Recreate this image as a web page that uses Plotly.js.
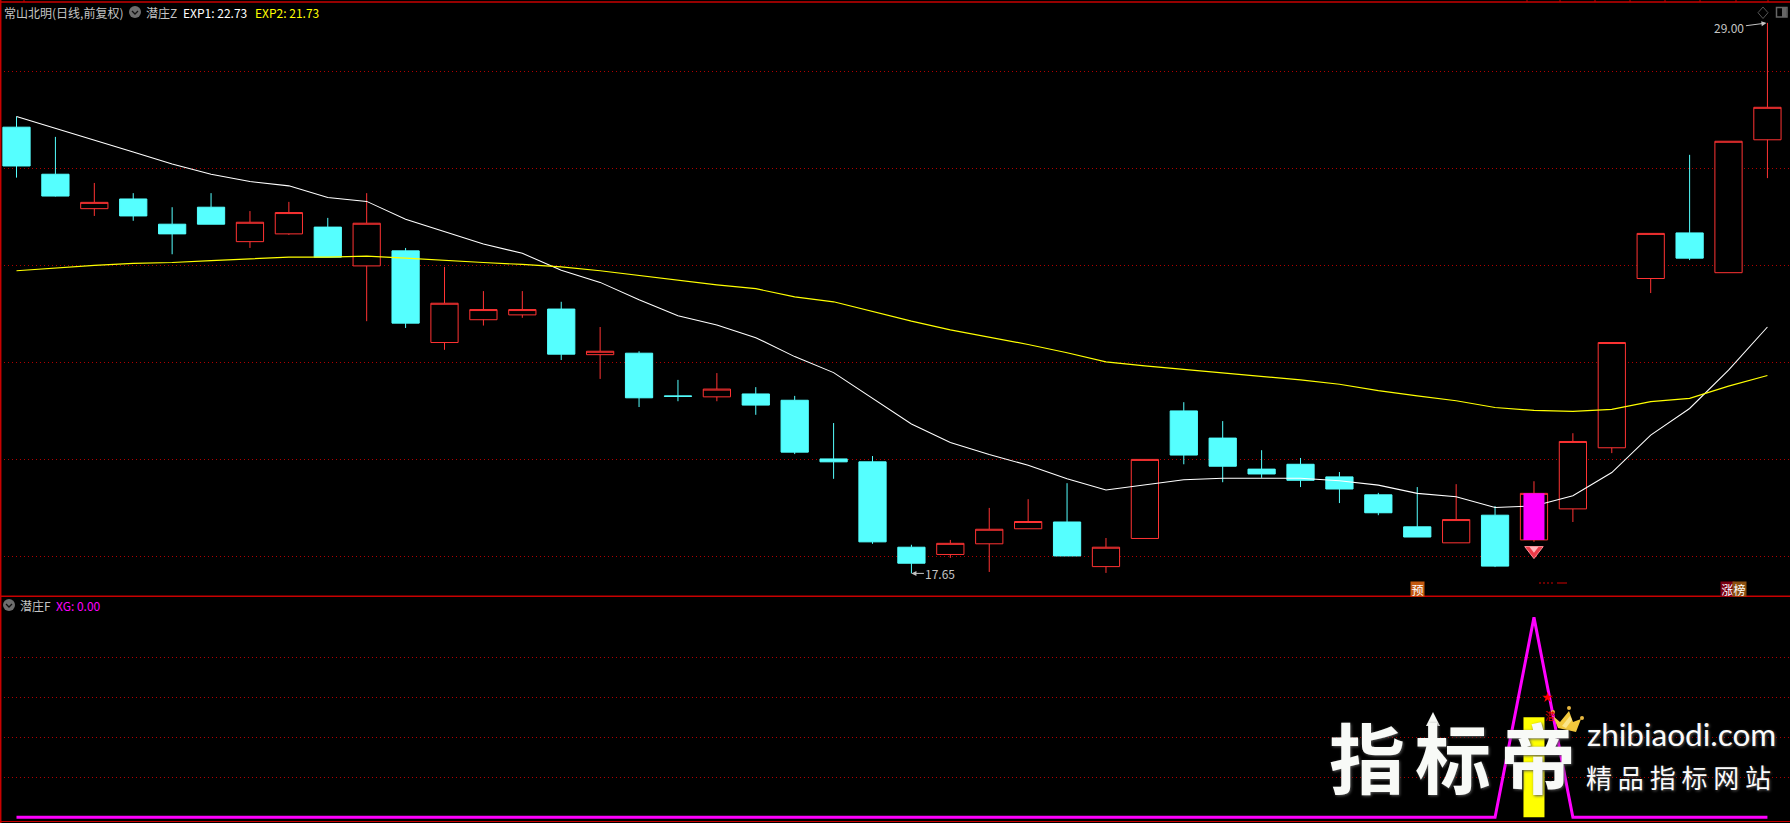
<!DOCTYPE html>
<html><head><meta charset="utf-8">
<script src="https://cdn.plot.ly/plotly-3.0.1.min.js"></script>
<style>html,body{margin:0;padding:0;background:#000;overflow:hidden}#c{width:1790px;height:823px}</style>
</head><body><div id="c"></div>
<script>
const H = 823, W = 1790;
const openP = [26.85,25.88,25.17,25.37,24.85,25.20,24.49,24.65,24.79,23.99,24.30,22.41,22.88,22.98,23.10,22.16,22.19,21.31,21.29,21.35,21.22,20.01,19.95,18.19,18.04,18.26,18.57,18.71,17.79,18.37,21.00,20.44,19.80,19.90,19.64,19.27,18.61,18.28,18.85,18.34,18.98,20.24,23.73,24.67,23.85,26.59];
const highP = [27.07,26.65,25.70,25.49,25.20,25.49,25.12,25.31,24.98,25.49,24.36,23.97,23.47,23.47,23.25,22.73,22.23,21.64,21.78,21.49,21.31,20.75,20.07,18.24,18.34,19.00,19.18,19.51,18.38,20.00,21.18,20.79,20.19,20.03,19.74,19.31,19.43,19.49,19.04,19.55,20.54,22.41,24.66,26.28,26.56,29.00];
const lowP = [25.81,25.42,25.02,24.92,24.23,24.85,24.36,24.63,24.17,22.85,22.71,22.26,22.76,22.92,22.05,21.66,21.08,21.20,21.20,20.92,20.11,19.60,18.26,17.65,17.97,17.68,18.57,18.01,17.66,18.37,19.90,19.53,19.62,19.43,19.10,18.85,18.40,18.28,17.78,18.30,18.71,20.13,23.43,24.11,23.85,25.80];
const closeP = [26.05,25.43,25.30,25.02,24.65,24.85,24.89,25.09,24.17,24.87,22.81,23.22,23.09,23.09,22.17,22.23,21.27,21.30,21.45,21.12,20.15,19.95,18.30,17.86,18.27,18.56,18.72,18.01,18.19,20.00,20.09,19.86,19.70,19.57,19.39,18.90,18.40,18.76,17.80,19.30,20.37,22.41,24.66,24.15,26.56,27.26];
const exp1 = [27.07,26.83,26.59,26.34,26.09,25.88,25.73,25.64,25.40,25.32,24.95,24.69,24.44,24.25,23.90,23.65,23.29,22.96,22.77,22.51,22.12,21.79,21.26,20.73,20.35,20.10,19.88,19.60,19.37,19.47,19.58,19.61,19.61,19.61,19.56,19.47,19.30,19.23,19.01,19.04,19.25,19.73,20.50,21.05,21.84,22.73];
const exp2 = [23.89,23.95,24.00,24.04,24.06,24.10,24.13,24.17,24.17,24.19,24.15,24.10,24.06,24.02,23.97,23.89,23.79,23.70,23.60,23.52,23.35,23.25,23.05,22.85,22.67,22.52,22.37,22.20,22.01,21.93,21.86,21.78,21.72,21.64,21.55,21.42,21.31,21.21,21.07,21.01,20.99,21.03,21.19,21.26,21.51,21.73];
const xg = [0,0,0,0,0,0,0,0,0,0,0,0,0,0,0,0,0,0,0,0,0,0,0,0,0,0,0,0,0,0,0,0,0,0,0,0,0,0,0,100,0,0,0,0,0,0];
const priceGrid = [18,20,22,24,26,28];
const subGrid = [20,40,60,80];
const idx = openP.map((_, i) => i);
const signalIdx = [39];
const signalOpen = [19.30];
const signalClose = [18.34];
const gemPrice = [18.12];
const yellowBar = [50];
const starVal = [60];
const logoChars = ['指','标','帝'];
const topTicks = [24,1527,1560,1595,1630,1665,1700,1736,1768];

const RED = '#ff3333', CYAN = '#55ffff', GRID = '#b00000', BORDER = '#c80000';
const px = v => v / W;
const py = v => 1 - v / H;
const fontCJK = '"Noto Sans CJK SC","DejaVu Sans",sans-serif';
const GREY = '#c4c4c4';

const traces = [
 {type:'candlestick', x:idx, open:openP, high:highP, low:lowP, close:closeP, xaxis:'x', yaxis:'y', width:0.745, whiskerwidth:0,
  increasing:{line:{color:RED,width:1}, fillcolor:'#000000'},
  decreasing:{line:{color:CYAN,width:1}, fillcolor:CYAN}, hoverinfo:'skip', showlegend:false},
 {type:'scatter', mode:'lines', x:idx, y:exp1, line:{color:'#ffffff',width:1.05}, xaxis:'x', yaxis:'y', hoverinfo:'skip'},
 {type:'scatter', mode:'lines', x:idx, y:exp2, line:{color:'#ffff00',width:1.2}, xaxis:'x', yaxis:'y', hoverinfo:'skip'},
 {type:'scatter', mode:'lines', x:[signalIdx[0],signalIdx[0]], y:[signalOpen[0],signalClose[0]], line:{color:'#ff00ff',width:21}, xaxis:'x', yaxis:'y', hoverinfo:'skip'},
 {type:'scatter', mode:'markers', x:signalIdx, y:gemPrice, marker:{symbol:'triangle-down',size:16,color:'#ec3a48',line:{color:'#ff8f98',width:1}}, xaxis:'x', yaxis:'y', hoverinfo:'skip'},
 {type:'scatter', mode:'markers', x:signalIdx, y:[18.16], marker:{symbol:'triangle-down',size:8,color:'#ffb6bc'}, xaxis:'x', yaxis:'y', hoverinfo:'skip'},
 {type:'bar', x:signalIdx, y:yellowBar, width:0.54, marker:{color:'#ffff00',line:{width:0}}, xaxis:'x2', yaxis:'y2', hoverinfo:'skip'},
 {type:'scatter', mode:'lines', x:idx, y:xg, line:{color:'#ff00ff',width:3}, xaxis:'x2', yaxis:'y2', hoverinfo:'skip'},
 {type:'scatter', mode:'markers', x:[39.35], y:starVal, marker:{symbol:'star',size:8,color:'#ff0000'}, xaxis:'x2', yaxis:'y2', hoverinfo:'skip'}
];

function label(x, y, text, color, size, anchor, extra) {
  return Object.assign({xref:'paper', yref:'paper', x:px(x), y:py(y), text, showarrow:false,
    xanchor:anchor||'left', yanchor:'middle', font:{family:fontCJK, size:size||12, color:color||GREY}, borderpad:0}, extra||{});
}

const logoX = [1367,1453,1538];
const annotations = [
 label(3, 12, '常山北明(日线,前复权)', GREY, 12),
 label(145, 12, '潜庄Z', GREY, 12),
 label(182, 12, 'EXP1: 22.73', '#ffffff', 12),
 label(254, 12, 'EXP2: 21.73', '#ffff00', 12),
 label(19, 605, '潜庄F', GREY, 12),
 label(55, 605, 'XG: 0.00', '#ff00ff', 12),
 {xref:'x', yref:'y', x:45, y:29, text:'29.00', showarrow:true, ax:-38, ay:5, arrowcolor:GREY, arrowwidth:1, arrowhead:2, arrowsize:1, standoff:1, font:{family:fontCJK,size:12,color:GREY}},
 {xref:'x', yref:'y', x:23, y:17.65, text:'17.65', showarrow:true, ax:29, ay:0, arrowcolor:GREY, arrowwidth:1, arrowhead:2, arrowsize:1, standoff:0, font:{family:fontCJK,size:12,color:GREY}},
 label(1417.5, 589, '预', '#ffffff', 12, 'center', {bgcolor:'#c2580f', width:13, height:14}),
 label(1727.5, 589, '涨', '#ffffff', 12, 'center', {bgcolor:'#7a0012', width:13, height:14}),
 label(1739.5, 589, '榜', '#ffffff', 12, 'center', {bgcolor:'#8a4f10', width:13, height:14}),
 label(1550, 715, '潜', '#e00000', 10, 'center'),
 ...logoChars.map((c,i)=>label(logoX[i], 755, c, '#f8faf7', 76, 'center', {font:{family:fontCJK,size:76,color:'#f8faf7',weight:700,shadow:'1px 1px 3px #555555'}})),
 label(1681, 734, 'zhibiaodi.com', '#fafafa', 31.5, 'center', {font:{family:'Lato,"Open Sans",sans-serif',size:31.5,color:'#fafafa',shadow:'1px 1px 3px #555555'}}),
 label(1678, 776, '精 品 指 标 网 站', '#fafafa', 26, 'center', {font:{family:fontCJK,size:26,color:'#fafafa',shadow:'1px 1px 3px #555555'}})
];

function iconShapes(cx, cy) {
  return [
   {type:'circle', xref:'paper', yref:'paper', x0:px(cx-6), x1:px(cx+6), y0:py(cy+6), y1:py(cy-6), fillcolor:'#6e6e6e', line:{width:0}},
   {type:'path', xref:'paper', yref:'paper', path:`M ${px(cx-3)} ${py(cy-1)} L ${px(cx)} ${py(cy+2)} L ${px(cx+3)} ${py(cy-1)}`, line:{color:'#111111',width:1.3}}
  ];
}
function poly(pts, fill, lineColor) {
  const d = pts.map((p,i)=>(i?'L ':'M ')+px(p[0])+' '+py(p[1])).join(' ')+' Z';
  return {type:'path', xref:'paper', yref:'paper', path:d, fillcolor:fill, line:{color:lineColor||fill,width:lineColor?1:0}};
}
function dot(cx, cy, r, c) {
  return {type:'circle', xref:'paper', yref:'paper', x0:px(cx-r), x1:px(cx+r), y0:py(cy+r), y1:py(cy-r), fillcolor:c, line:{width:0}};
}
const shapes = [
 ...iconShapes(135, 12),
 ...iconShapes(9, 605),
 {type:'line', xref:'paper', yref:'paper', x0:0, x1:1, y0:py(2), y1:py(2), line:{color:BORDER,width:1.5}},
 ...topTicks.map(t=>({type:'line', xref:'paper', yref:'paper', x0:px(t), x1:px(t), y0:py(0), y1:py(2), line:{color:BORDER,width:1}})),
 {type:'line', xref:'paper', yref:'paper', x0:0, x1:1, y0:py(596.3), y1:py(596.3), line:{color:BORDER,width:1.5}},
 {type:'line', xref:'paper', yref:'paper', x0:0, x1:1, y0:py(821.5), y1:py(821.5), line:{color:BORDER,width:1}},
 {type:'line', xref:'paper', yref:'paper', x0:px(0.7), x1:px(0.7), y0:0, y1:1, line:{color:BORDER,width:1.5}},
 poly([[1763,7],[1768,12.7],[1763,18.5],[1758,12.7]], 'rgba(0,0,0,0)', '#555555'),
 {type:'rect', xref:'paper', yref:'paper', x0:px(1776.5), x1:px(1787), y0:py(17), y1:py(7.5), line:{color:'#666666',width:1.5}, fillcolor:'#000000'},
 {type:'rect', xref:'paper', yref:'paper', x0:px(1782), x1:px(1786.5), y0:py(17), y1:py(7.5), line:{width:0}, fillcolor:'#666666'},
 {type:'line', xref:'paper', yref:'paper', x0:px(1539), x1:px(1553), y0:py(583), y1:py(583), line:{color:'#d00000',width:1,dash:'2px,2px'}},
 {type:'line', xref:'paper', yref:'paper', x0:px(1557), x1:px(1567), y0:py(583), y1:py(583), line:{color:'#d00000',width:1}},
 poly([[1433,712],[1426,726],[1440,726]], '#f8faf7'),
 poly([[1553,716],[1560,722],[1569,711],[1573,722],[1581,719],[1576,732],[1558,728]], '#f2c83c'),
 poly([[1562,726],[1570,716],[1572,720],[1566,728]], '#fbe58a'),
 dot(1553,712,2,'#e8b840'), dot(1569,708,2,'#e8b840'), dot(1582,718,2,'#e8b840')
];

const layout = {
 width:W, height:H, paper_bgcolor:'#000000', plot_bgcolor:'#000000', margin:{l:0,r:0,t:0,b:0}, showlegend:false, boxgap:0,
 xaxis:{domain:[0,1], range:[-0.424,45.58], visible:false, fixedrange:true, rangeslider:{visible:false}},
 yaxis:{domain:[py(596),py(2)], range:[17.184,29.431], tickmode:'array', tickvals:priceGrid, showticklabels:false, ticks:'', showgrid:true, gridcolor:GRID, griddash:'1px,3px', gridwidth:1, zeroline:false, showline:false, fixedrange:true},
 xaxis2:{domain:[0,1], range:[-0.424,45.58], visible:false, fixedrange:true, anchor:'y2'},
 yaxis2:{domain:[py(822),py(597)], range:[-2.35,110.2], tickmode:'array', tickvals:subGrid, showticklabels:false, ticks:'', showgrid:true, gridcolor:GRID, griddash:'1px,3px', gridwidth:1, zeroline:false, showline:false, fixedrange:true, anchor:'x2'},
 annotations, shapes
};
Plotly.newPlot('c', traces, layout, {displayModeBar:false, staticPlot:true});
</script></body></html>
